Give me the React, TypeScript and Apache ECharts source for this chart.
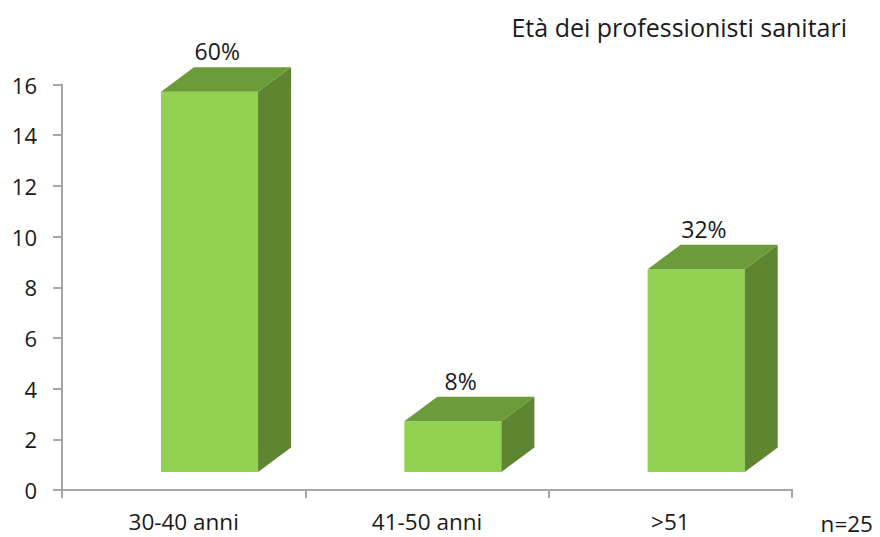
import React, { useEffect, useRef } from "react";
import * as echarts from "echarts";

const categories = ["30-40 anni", "41-50 anni", ">51"];
const counts = [15, 2, 8];
const percentLabels = ["60%", "8%", "32%"];
const yTicks = { min: 0, max: 16, interval: 2 };
const titleText = "Età dei professionisti sanitari";
const sampleNote = "n=25";

const FONT = "'Open Sans', 'Noto Sans', sans-serif";
const TEXT = "#1a1a1a";

export default function App() {
  const ref = useRef<HTMLDivElement>(null);
  useEffect(() => {
    if (!ref.current) return;
    const chart = echarts.init(ref.current, null, { renderer: "svg" });
    const data = counts.map((v, i) => [i, v]);
    chart.setOption({
      animation: false,
      backgroundColor: "#ffffff",
      graphic: [
        {
          type: "text",
          x: 847,
          y: 27,
          style: { text: titleText, font: `25px ${FONT}`, fill: TEXT, align: "right", verticalAlign: "middle" },
        },
        {
          type: "text",
          x: 873,
          y: 523,
          style: { text: sampleNote, font: `22.5px ${FONT}`, fill: TEXT, align: "right", verticalAlign: "middle" },
        },
      ],
      grid: { left: 62, right: 88, top: 84.5, bottom: 47, containLabel: false },
      xAxis: {
        type: "category",
        data: categories,
        boundaryGap: true,
        axisLine: { lineStyle: { color: "#a6a6a6", width: 2 } },
        axisTick: { show: true, length: 8, lineStyle: { color: "#a6a6a6", width: 2 } },
        axisLabel: { fontFamily: FONT, fontSize: 22.5, color: TEXT, margin: 20 },
      },
      yAxis: {
        type: "value",
        min: yTicks.min,
        max: yTicks.max,
        interval: yTicks.interval,
        splitLine: { show: false },
        axisLine: { show: true, lineStyle: { color: "#a6a6a6", width: 2 } },
        axisTick: { show: true, length: 9, lineStyle: { color: "#a6a6a6", width: 2 } },
        axisLabel: { fontFamily: FONT, fontSize: 22, color: TEXT, margin: 25 },
      },
      series: [
        {
          type: "custom",
          data,
          renderItem: (params: any, api: any) => {
            const idx = api.value(0);
            const v = api.value(1);
            const label = percentLabels[idx];
            const base = api.coord([idx, 0]);
            const top = api.coord([idx, v]);
            const bw = api.size([1, 0])[0];
            const lift = 18;
            const dx = bw * 0.1356;
            const dy = 24.5;
            const left = base[0] - bw * 0.0933;
            const w = bw * 0.399;
            const by = base[1] - lift;
            const ty = top[1] - lift;
            return {
              type: "group",
              children: [
                {
                  type: "polygon",
                  shape: { points: [[left, ty], [left + w, ty], [left + w, by], [left, by]] },
                  style: { fill: "#92d050" },
                },
                {
                  type: "polygon",
                  shape: { points: [[left, ty], [left + w, ty], [left + w + dx, ty - dy], [left + dx, ty - dy]] },
                  style: { fill: "#6c9b3a" },
                },
                {
                  type: "polygon",
                  shape: { points: [[left + w, ty], [left + w + dx, ty - dy], [left + w + dx, by - dy], [left + w, by]] },
                  style: { fill: "#5e8631" },
                },
                {
                  type: "text",
                  style: {
                    x: left + w * 0.58,
                    y: ty - dy - 16,
                    text: label,
                    font: `23px ${FONT}`,
                    fill: TEXT,
                    align: "center",
                    verticalAlign: "middle",
                  },
                },
              ],
            };
          },
        },
      ],
    });
    return () => chart.dispose();
  }, []);
  return <div ref={ref} style={{ width: 880, height: 537, position: "absolute", left: 0, top: 0 }} />;
}
